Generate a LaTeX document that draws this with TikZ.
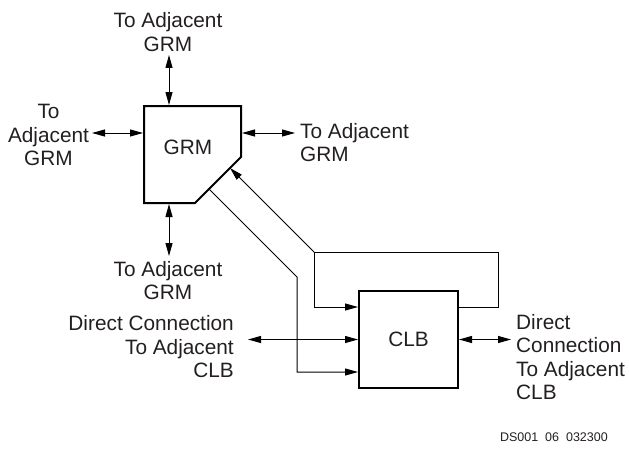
\documentclass[tikz,border=0pt]{standalone}
\usepackage{fontspec}
\setmainfont{Liberation Sans}
\usetikzlibrary{arrows.meta}
\definecolor{txt}{RGB}{35,31,32}
\begin{document}
\begin{tikzpicture}[x=1pt,y=-1pt,
  lbl/.style={inner sep=0pt,text=txt,font=\fontsize{20.8}{23.5}\selectfont},
  thin/.style={line width=1pt},
  thick/.style={line width=2pt},
  tip/.style={-{Triangle[length=13pt,width=7pt]}},
  dtip/.style={{Triangle[length=13pt,width=7pt]}-{Triangle[length=13pt,width=7pt]}}
]
\useasboundingbox (0,0) rectangle (629,452);
% GRM block
\coordinate (g1) at (144,106);
\coordinate (g2) at (241,106);
\coordinate (g3) at (241,157);
\coordinate (g4) at (195,203);
\coordinate (g5) at (144,203);
\draw[thick,line join=miter] (g1) -- (g2) -- (g3) -- (g4) -- (g5) -- cycle;
\node[lbl] (grm) at (188,147) {GRM};
% CLB block
\node[lbl,draw=black,thick,minimum width=99pt,minimum height=97pt,text=txt] (clb) at (408.5,339.5) {CLB};
% labels
\node[lbl,align=center] (ltop) at (168,32) {To Adjacent\\GRM};
\node[lbl,align=center] (lleft) at (48.5,135.3) {To\\Adjacent\\GRM};
\node[lbl,align=left,anchor=west] (lright) at (300,142.5) {To Adjacent\\GRM};
\node[lbl,align=center] (lbot) at (168,280.5) {To Adjacent\\GRM};
\node[lbl,align=right,anchor=east] (ldcl) at (234,346.7) {Direct Connection\\To Adjacent\\CLB};
\node[lbl,align=left,anchor=west] (ldcr) at (516,357) {Direct\\Connection\\To Adjacent\\CLB};
\node[inner sep=0pt,text=txt,font=\fontsize{12.5}{14}\selectfont,anchor=east] (ds) at (608,437) {DS001\ \ 06\ \ 032300};
% connection points
\coordinate (at) at (169,55);
\coordinate (ab) at (169,105);
\coordinate (al1) at (92,133);
\coordinate (al2) at (143,133);
\coordinate (ar1) at (242,133);
\coordinate (ar2) at (295,133);
\coordinate (bb1) at (169,204);
\coordinate (bb2) at (169,256);
\coordinate (cl) at (248,339.5);
\coordinate (cr) at (511,339.5);
\coordinate (fbR) at (498,307);
\coordinate (fbRt) at (498,252);
\coordinate (fbL) at (314,252);
\coordinate (fbLb) at (314,307);
\coordinate (ch1) at (230,168);
\coordinate (ch2) at (209,189);
\coordinate (d1) at (297,277);
\coordinate (d2) at (297,372);
% arrows
\draw[thin,dtip] (at) -- (ab);
\draw[thin,dtip] (al1) -- (al2);
\draw[thin,dtip] (ar1) -- (ar2);
\draw[thin,dtip] (bb1) -- (bb2);
\draw[thin,dtip] (cl) -- (clb.west);
\draw[thin,dtip] (clb.east) -- (cr);
\draw[thin,tip] (clb.east |- fbR) -- (fbR) -- (fbRt) -- (fbL) -- (fbLb) -- (clb.west |- fbLb);
\draw[thin,tip] (fbL) -- (ch1);
\draw[thin,tip] (ch2) -- (d1) -- (d2) -- (clb.west |- d2);
\end{tikzpicture}
\end{document}
